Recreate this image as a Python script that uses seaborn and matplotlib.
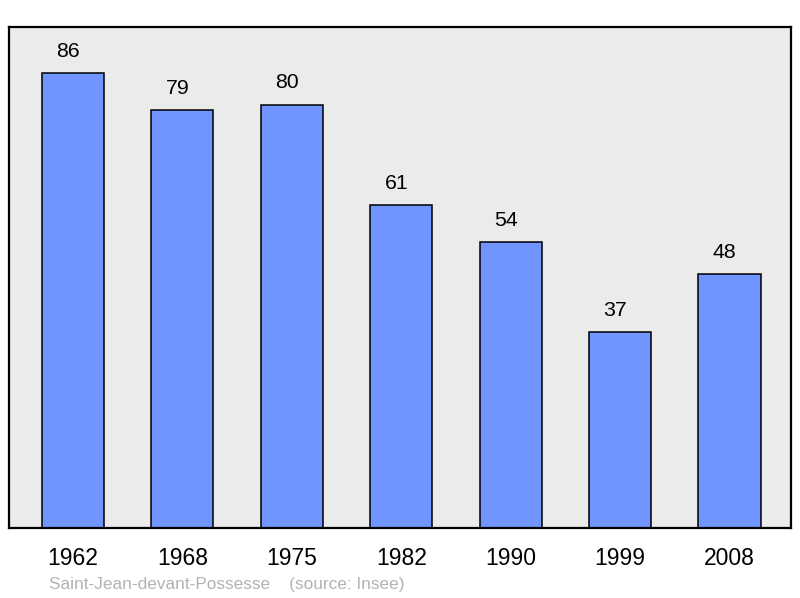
import matplotlib
matplotlib.use("Agg")
import matplotlib.pyplot as plt
import seaborn as sns
import pandas as pd

years = ["1962", "1968", "1975", "1982", "1990", "1999", "2008"]
population = [86, 79, 80, 61, 54, 37, 48]
source_text = "Saint-Jean-devant-Possesse    (source: Insee)"

sns.set_theme(style="white")
plt.rcParams["font.family"] = ["Liberation Sans", "DejaVu Sans"]

df = pd.DataFrame({"year": years, "pop": population})

W, H = 800, 598
fig = plt.figure(figsize=(W / 100, H / 100), dpi=100)
ax = fig.add_axes([9 / W, (H - 528) / H, 782 / W, 501 / H])
ax.set_facecolor("#ebebeb")

sns.barplot(data=df, x="year", y="pop", color="#7095ff", saturation=1,
            width=0.567, edgecolor="black", linewidth=1.1, ax=ax)

# value labels sit a bit left of bar centre in the original
for i, v in enumerate(population):
    ax.annotate(str(v), (i, v), xytext=(-3.6, 9), textcoords="offset points",
                ha="center", va="bottom", fontsize=15.3, color="black")

ax.set_xlim(-0.585, 6.562)
ax.set_ylim(0, 94.7)
ax.set_yticks([])
ax.set_xlabel("")
ax.set_ylabel("")
ax.tick_params(axis="x", length=0, pad=13.5, labelsize=16.5, colors="black")
for s in ax.spines.values():
    s.set_color("black")
    s.set_linewidth(1.6)

fig.text(49 / W, 1 - 584 / H, source_text, fontsize=12.4, color="#b3b3b3",
         ha="left", va="center")

fig.savefig("out.png", dpi=100)
